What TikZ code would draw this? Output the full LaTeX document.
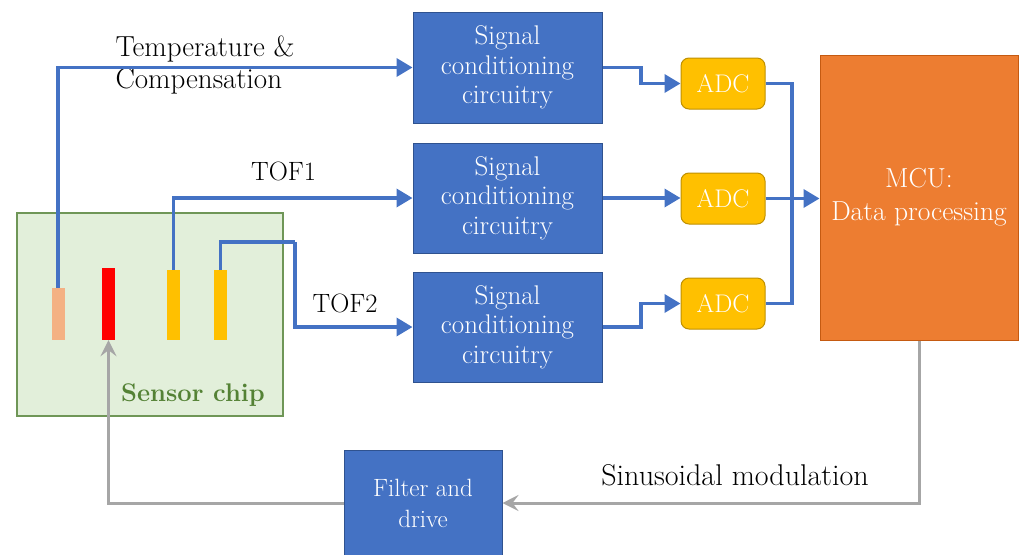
\documentclass[tikz,border=0pt]{standalone}
\usepackage{fontspec}
\usetikzlibrary{arrows.meta,calc}
\definecolor{sigblue}{HTML}{4472C4}
\definecolor{sigborder}{HTML}{2F528F}
\definecolor{adcfill}{HTML}{FFC000}
\definecolor{adcborder}{HTML}{BF9000}
\definecolor{mcufill}{HTML}{ED7D31}
\definecolor{mcuborder}{HTML}{C55A11}
\definecolor{chipfill}{HTML}{E2EFDA}
\definecolor{chipborder}{HTML}{6F9657}
\definecolor{chiptext}{HTML}{548235}
\definecolor{pinkbar}{HTML}{F4B183}
\definecolor{wiregray}{HTML}{A6A6A6}
\tikzset{
  sigbox/.style={draw=sigborder, fill=sigblue, line width=1pt, text=white, minimum width=189pt, minimum height=110pt, align=center, inner sep=0pt, font=\fontsize{27}{29.5}\selectfont},
  adcbox/.style={draw=adcborder, fill=adcfill, line width=1pt, rounded corners=8pt, text=white, minimum width=84pt, minimum height=51pt, inner sep=0pt, font=\fontsize{25.5}{29}\selectfont},
  bar/.style={minimum width=13pt, inner sep=0pt, draw=none},
  bwire/.style={draw=sigblue, line width=3.5pt},
  barrow/.style={bwire, -{Triangle[length=16pt,width=18pt]}},
  gwire/.style={draw=wiregray, line width=3pt},
  garrow/.style={gwire, -{Stealth[length=16pt,width=16pt,inset=6pt]}},
  lbl/.style={font=\fontsize{26.5}{32}\selectfont, align=left, inner sep=0pt}
}
\begin{document}
\begin{tikzpicture}[x=1pt,y=-1pt]
\useasboundingbox (0,0) rectangle (1019,554);
% sensor chip
\node[draw=chipborder, fill=chipfill, line width=1.2pt, minimum width=266pt, minimum height=203pt, inner sep=0pt] (chip) at (150,314.5) {};
\node[font=\bfseries\fontsize{25.5}{30}\selectfont, text=chiptext, inner sep=0pt] (chiplbl) at (193,395) {Sensor chip};
\node[bar, fill=pinkbar, minimum height=52pt] (pink) at (58,314) {};
\node[bar, fill=red, minimum height=72pt] (red) at (108.5,304) {};
\node[bar, fill=adcfill, minimum height=70pt] (ya) at (173.5,305) {};
\node[bar, fill=adcfill, minimum height=70pt] (yb) at (220.5,305) {};
% signal conditioning
\node[sigbox, minimum height=111pt] (s1) at (507.5,67.5) {Signal\\conditioning\\circuitry};
\node[sigbox] (s2) at (507.5,198) {Signal\\conditioning\\circuitry};
\node[sigbox] (s3) at (507.5,327) {Signal\\conditioning\\circuitry};
% ADCs
\node[adcbox] (a1) at (723,83.5) {ADC};
\node[adcbox] (a2) at (723,198.5) {ADC};
\node[adcbox] (a3) at (723,303.5) {ADC};
% MCU
\node[draw=mcuborder, fill=mcufill, line width=1pt, minimum width=198pt, minimum height=285pt, text=white, align=center, inner sep=0pt, font=\fontsize{27.5}{33}\selectfont] (mcu) at (919,197.5) {MCU:\\Data processing};
% filter
\node[sigbox, minimum width=158pt, minimum height=106pt, font=\fontsize{25}{31}\selectfont] (filt) at (423,503) {Filter and\\drive};
% labels
\node[lbl, font=\fontsize{29}{32}\selectfont] (tlbl) at (205,65) {Temperature \&\\Compensation};
\node[lbl] (tof1) at (283.5,171) {TOF1};
\node[lbl] (tof2) at (345,303) {TOF2};
\node[lbl, font=\fontsize{30}{32}\selectfont] (sinl) at (735,475) {Sinusoidal modulation};
% coordinates
\coordinate (c1) at (295,242);
\coordinate (m1) at (641,0);
\coordinate (m2) at (792,0);
% wires
\draw[barrow] (pink.north) |- (s1.west);
\draw[barrow] (ya.north) |- (s2.west);
\draw[bwire] (yb.north) |- (c1);
\draw[barrow] (c1) |- (s3.west);
\draw[barrow] (s1.east) -- (s1.east -| m1) -- (a1.west -| m1) -- (a1.west);
\draw[barrow] (s2.east) -- (a2.west |- s2.east);
\draw[barrow] (s3.east) -- (s3.east -| m1) -- (a3.west -| m1) -- (a3.west);
\draw[bwire] (a1.east) -- (a1.east -| m2) -- (a3.east -| m2) -- (a3.east);
\draw[barrow] (a2.east) -- (a2.east -| mcu.west);
\draw[garrow] (mcu.south) |- (filt.east);
\draw[garrow] (filt.west) -| (red.south);
\end{tikzpicture}
\end{document}
